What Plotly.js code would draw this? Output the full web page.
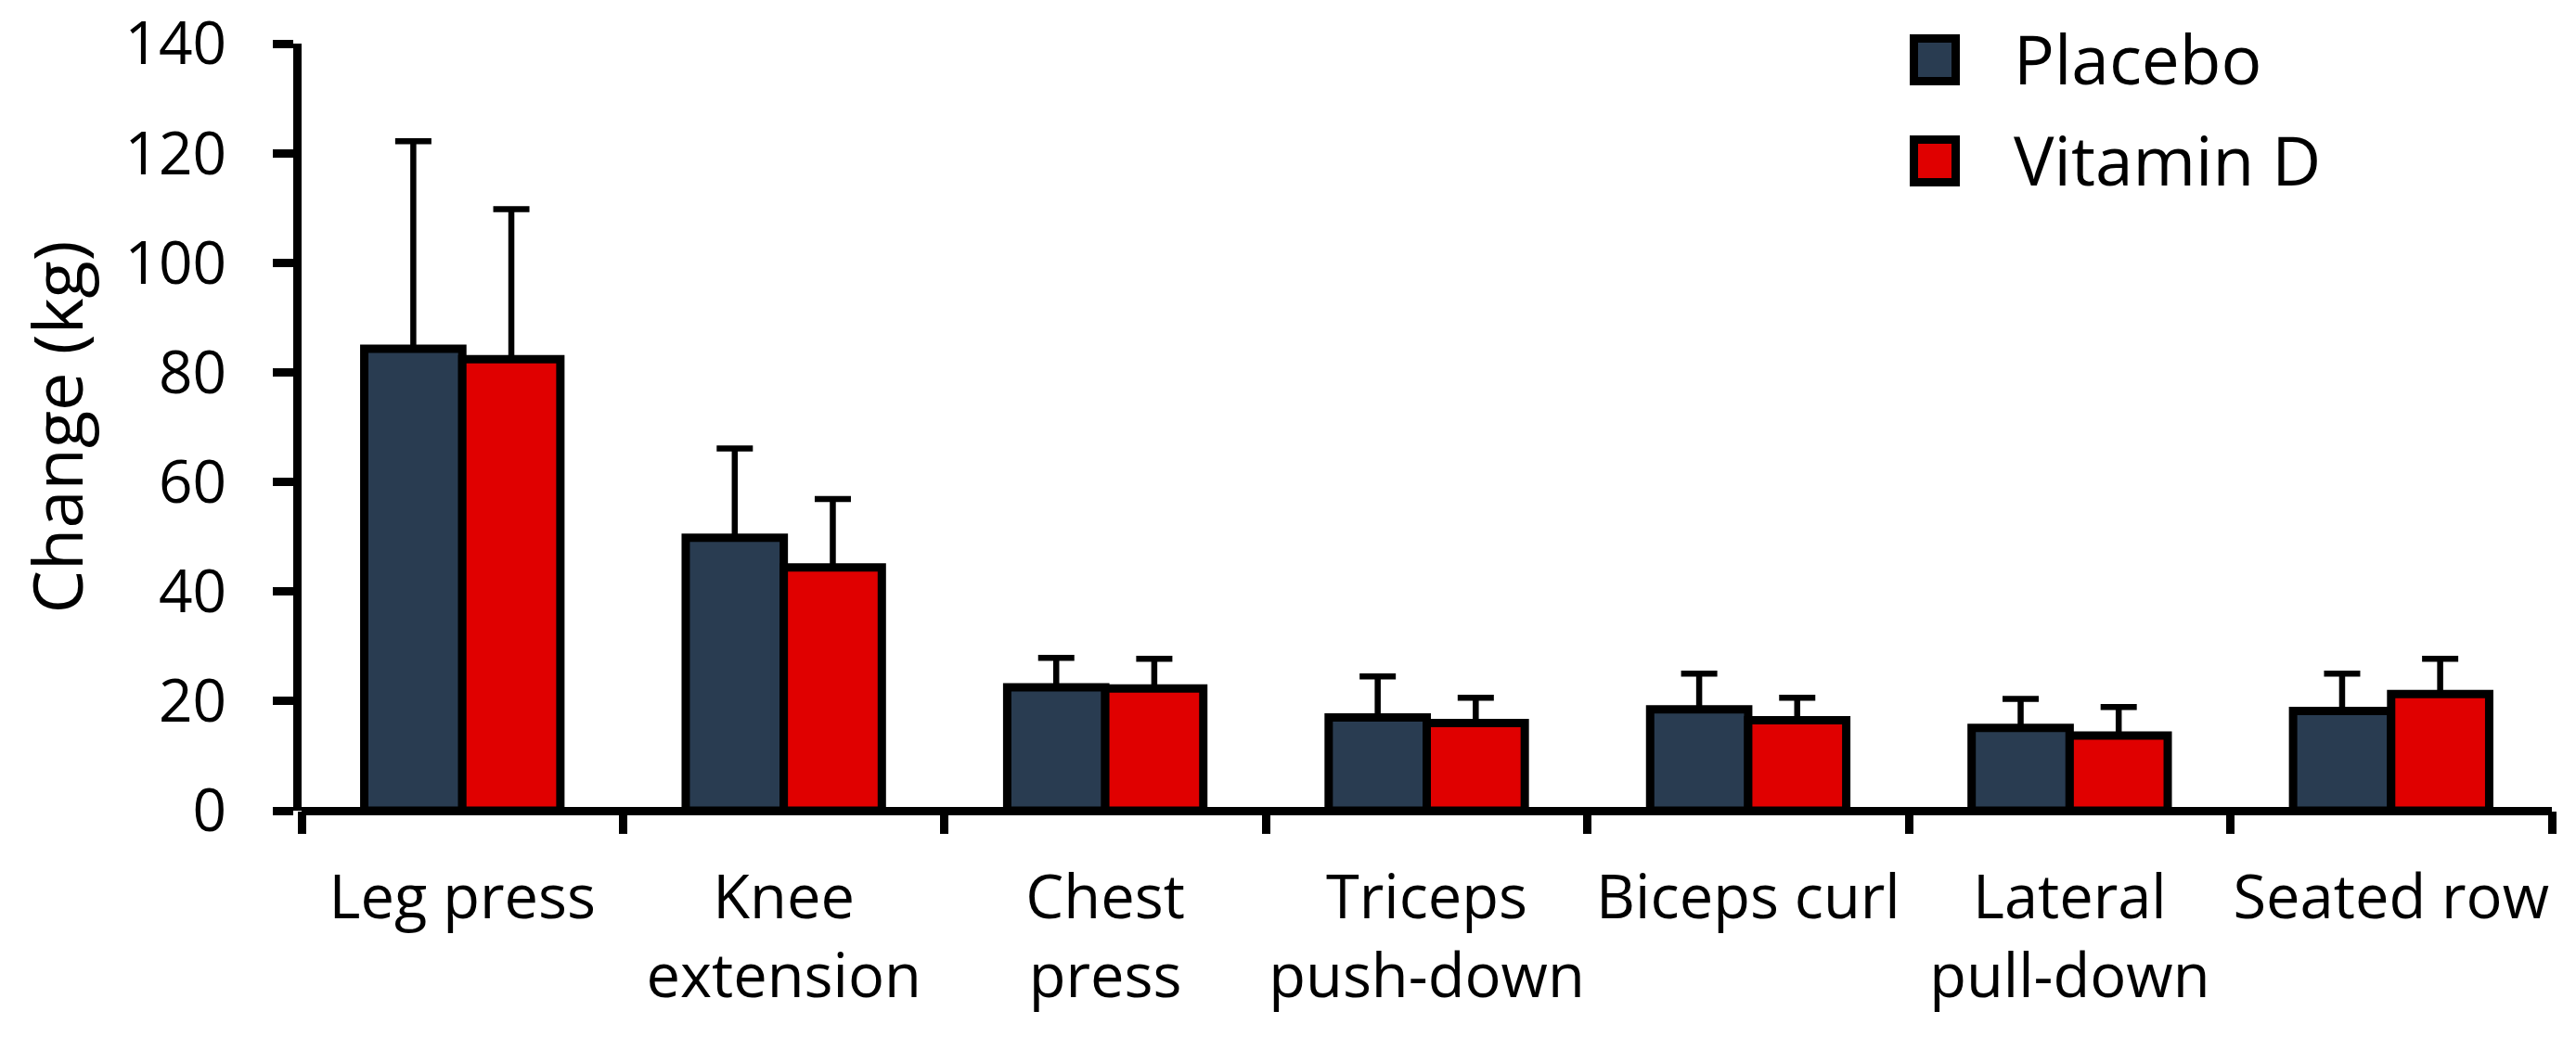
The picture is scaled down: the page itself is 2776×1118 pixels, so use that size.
<!DOCTYPE html>
<html>
<head>
<meta charset="utf-8">
<script src="https://cdn.plot.ly/plotly-3.0.1.min.js"></script>
<style>html,body{margin:0;padding:0;background:#fff;}#chart{width:2776px;height:1118px;}</style>
</head>
<body>
<div id="chart"></div>
<script>
// ---- data ----
const categories = ["Leg press", "Knee<br>extension", "Chest<br>press", "Triceps<br>push-down", "Biceps curl", "Lateral<br>pull-down", "Seated row"];
const placeboMean = [84.3, 49.8, 22.5, 17.0, 18.5, 15.1, 18.2];
const placeboSD   = [37.9, 16.3, 5.4, 7.5, 6.5, 5.3, 6.8];
const vitaminDMean = [82.4, 44.4, 22.3, 16.0, 16.5, 13.7, 21.3];
const vitaminDSD   = [27.4, 12.5, 5.4, 4.6, 4.1, 5.2, 6.4];
const noLower = [0, 0, 0, 0, 0, 0, 0];
const seriesNames = ["Placebo", "Vitamin D"];
const yTickValues = [0, 20, 40, 60, 80, 100, 120, 140];

// ---- styling ----
const FONT = "Open Sans, Lato, sans-serif";
const colPlacebo = "#293c51";
const colVitD = "#e00000";

const W = 2776, H = 1118;
const M = {l: 325, r: 26, t: 47, b: 244};
const pw = W - M.l - M.r, ph = H - M.t - M.b;
const px = x => (x - M.l) / pw;
const py = y => (H - M.b - y) / ph;

function bar(name, y, err, color) {
  return {
    type: "bar", name: name, x: categories, y: y,
    marker: {color: color, line: {color: "#000", width: 9}},
    error_y: {type: "data", symmetric: false, array: err, arrayminus: noLower,
              color: "#000", thickness: 6.5, width: 19.5},
    showlegend: false, hoverinfo: "skip"
  };
}

const traces = [
  bar(seriesNames[0], placeboMean, placeboSD, colPlacebo),
  bar(seriesNames[1], vitaminDMean, vitaminDSD, colVitD)
];

// manual legend (large swatches)
const legendRows = [
  {name: seriesNames[0], color: colPlacebo, top: 41.5, bottom: 87.5, textY: 62},
  {name: seriesNames[1], color: colVitD, top: 150.5, bottom: 196.5, textY: 171}
];
const shapes = [], annotations = [];
legendRows.forEach(r => {
  shapes.push({type: "rect", xref: "paper", yref: "paper",
    x0: px(2062.5), x1: px(2107.5), y0: py(r.bottom), y1: py(r.top),
    fillcolor: r.color, line: {color: "#000", width: 9}});
  annotations.push({xref: "paper", yref: "paper", x: px(2168), y: py(r.textY),
    xanchor: "left", yanchor: "middle", showarrow: false, text: r.name,
    font: {family: FONT, size: 73, color: "#000"}});
});

const layout = {
  width: W, height: H,
  margin: M,
  paper_bgcolor: "#fff", plot_bgcolor: "#fff",
  barmode: "group", bargap: 0.39, bargroupgap: 0,
  font: {family: FONT, color: "#000"},
  xaxis: {
    type: "category", range: [-0.5, 6.5],
    showline: false, showgrid: false, zeroline: false,
    ticks: "outside", tickson: "boundaries", ticklen: 24, tickwidth: 9, tickcolor: "#000",
    tickfont: {family: FONT, size: 65, color: "#000"}, tickangle: 0,
    ticklabelstandoff: 50, ticklabeloverflow: "allow", automargin: false
  },
  yaxis: {
    range: [0, 140], tickvals: yTickValues, ticktext: yTickValues.map(String),
    showline: true, linewidth: 9, linecolor: "#000",
    showgrid: false, zeroline: true, zerolinewidth: 9, zerolinecolor: "#000",
    ticks: "outside", ticklen: 22, tickwidth: 9, tickcolor: "#000",
    tickfont: {family: FONT, size: 64, color: "#000"},
    ticklabelstandoff: 37, ticklabeloverflow: "allow",
    title: {text: "Change (kg)", font: {family: FONT, size: 74, color: "#000"}, standoff: 24},
    automargin: false
  },
  shapes: shapes,
  annotations: annotations
};

Plotly.newPlot("chart", traces, layout, {staticPlot: true, displayModeBar: false});
</script>
</body>
</html>
